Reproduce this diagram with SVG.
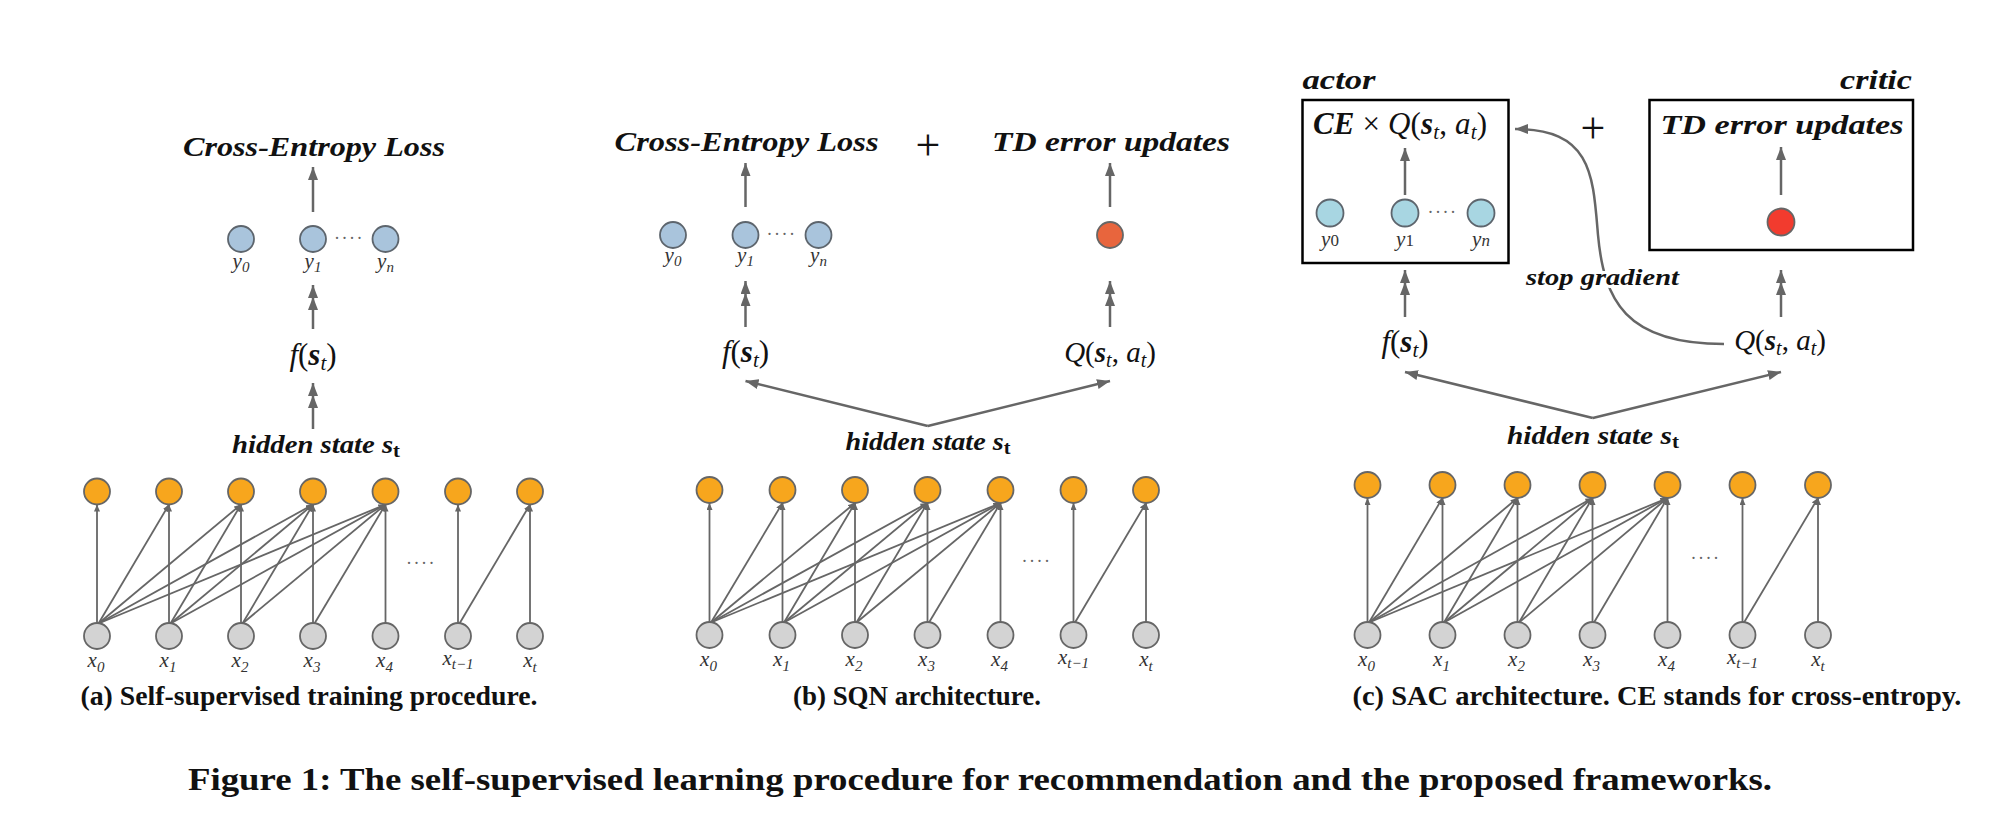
<svg xmlns="http://www.w3.org/2000/svg" width="1995" height="834" viewBox="0 0 1995 834">
<defs>
<style>
.m{font-family:"Liberation Serif","Times New Roman",Times,serif;font-style:italic;fill:#111}
.up{font-style:normal}
.bd{font-weight:bold}
.lbl{font-size:21px;fill:#333}
.sb{font-size:15px}
.ttl{font-weight:bold;font-size:28px}
.hs{font-weight:bold;font-size:25px}
.cap{font-family:"Liberation Serif","Times New Roman",Times,serif;font-weight:bold;fill:#111}
.dots{font-family:"Liberation Serif",serif;font-size:18px;fill:#666;letter-spacing:1.5px}
.ln{stroke:#666;stroke-width:1.8;fill:none}
.ar{stroke:#666;stroke-width:2.5;fill:none}
.o{fill:#f7a61d;stroke:#666;stroke-width:1.8}
.g{fill:#d3d3d3;stroke:#666;stroke-width:1.8}
.bl{fill:#a9c4dc;stroke:#5d656d;stroke-width:1.8}
.cy{fill:#a8d6e2;stroke:#5d656d;stroke-width:1.8}
.box{fill:none;stroke:#000;stroke-width:2.5}
</style>
<marker id="as" markerUnits="userSpaceOnUse" markerWidth="7" markerHeight="6" refX="7" refY="3" orient="auto"><path d="M0,0 L7,3 L0,6 z" fill="#666"/></marker>
<marker id="ab" markerUnits="userSpaceOnUse" markerWidth="13" markerHeight="10" refX="13" refY="5" orient="auto"><path d="M0,0 L13,5 L0,10 z" fill="#666"/></marker>
</defs>
<rect width="1995" height="834" fill="#fff"/>

<g id="connectors">
<g class="ln" marker-end="url(#as)">
<path d="M97,623 L97,504.5"/><path d="M98.5,623.5 L169,504.5"/><path d="M98.5,623.5 L241,504.5"/><path d="M98.5,623.5 L313,504.5"/><path d="M98.5,623.5 L385.5,504.5"/>
<path d="M169,623 L169,504.5"/><path d="M170.5,623.5 L241,504.5"/><path d="M170.5,623.5 L313,504.5"/><path d="M170.5,623.5 L385.5,504.5"/>
<path d="M241,623 L241,504.5"/><path d="M242.5,623.5 L313,504.5"/><path d="M242.5,623.5 L385.5,504.5"/>
<path d="M313,623 L313,504.5"/><path d="M314.5,623.5 L385.5,504.5"/>
<path d="M385.5,623 L385.5,504.5"/>
<path d="M458,623 L458,504.5"/><path d="M459.5,623.5 L530,504.5"/>
<path d="M530,623 L530,504.5"/>
</g>
<g class="ln" marker-end="url(#as)">
<path d="M709.5,622 L709.5,503"/><path d="M711,622.5 L782.5,503"/><path d="M711,622.5 L855,503"/><path d="M711,622.5 L927.5,503"/><path d="M711,622.5 L1000.5,503"/>
<path d="M782.5,622 L782.5,503"/><path d="M784,622.5 L855,503"/><path d="M784,622.5 L927.5,503"/><path d="M784,622.5 L1000.5,503"/>
<path d="M855,622 L855,503"/><path d="M856.5,622.5 L927.5,503"/><path d="M856.5,622.5 L1000.5,503"/>
<path d="M927.5,622 L927.5,503"/><path d="M929,622.5 L1000.5,503"/>
<path d="M1000.5,622 L1000.5,503"/>
<path d="M1073.5,622 L1073.5,503"/><path d="M1075,622.5 L1146,503"/>
<path d="M1146,622 L1146,503"/>
</g>
<g class="ln" marker-end="url(#as)">
<path d="M1367.5,622 L1367.5,498"/><path d="M1369,622.5 L1442.5,498"/><path d="M1369,622.5 L1517.5,498"/><path d="M1369,622.5 L1592.5,498"/><path d="M1369,622.5 L1667.5,498"/>
<path d="M1442.5,622 L1442.5,498"/><path d="M1444,622.5 L1517.5,498"/><path d="M1444,622.5 L1592.5,498"/><path d="M1444,622.5 L1667.5,498"/>
<path d="M1517.5,622 L1517.5,498"/><path d="M1519,622.5 L1592.5,498"/><path d="M1519,622.5 L1667.5,498"/>
<path d="M1592.5,622 L1592.5,498"/><path d="M1594,622.5 L1667.5,498"/>
<path d="M1667.5,622 L1667.5,498"/>
<path d="M1742.5,622 L1742.5,498"/><path d="M1744,622.5 L1818,498"/>
<path d="M1818,622 L1818,498"/>
</g>
<g class="ar" marker-end="url(#ab)">
<path d="M313,212 L313,167"/>
<path d="M313,329 L313,297 L313,285" marker-mid="url(#ab)"/>
<path d="M313,429 L313,395 L313,383" marker-mid="url(#ab)"/>
<path d="M745.5,207 L745.5,163"/>
<path d="M1110,207 L1110,163"/>
<path d="M745.5,327 L745.5,293 L745.5,281" marker-mid="url(#ab)"/>
<path d="M1110,327 L1110,293 L1110,281" marker-mid="url(#ab)"/>
<path d="M927.8,426 L745.5,381"/>
<path d="M927.8,426 L1110,381"/>
<path d="M1405,195 L1405,148"/>
<path d="M1781,195 L1781,147"/>
<path d="M1405,317 L1405,282 L1405,270" marker-mid="url(#ab)"/>
<path d="M1781,317 L1781,282 L1781,270" marker-mid="url(#ab)"/>
<path d="M1592.8,418 L1405,372"/>
<path d="M1592.8,418 L1781,372"/>
<path d="M1724,344 C1625,344 1604,300 1598,235 C1593,175 1592,129 1515,129"/>
</g>
</g>

<g id="panel-a">
<g id="a-inputs">
<circle class="g" cx="97" cy="636" r="13"/><circle class="g" cx="169" cy="636" r="13"/><circle class="g" cx="241" cy="636" r="13"/><circle class="g" cx="313" cy="636" r="13"/><circle class="g" cx="385.5" cy="636" r="13"/><circle class="g" cx="458" cy="636" r="13"/><circle class="g" cx="530" cy="636" r="13"/>
</g>
<g id="a-hidden">
<circle class="o" cx="97" cy="491.5" r="13"/><circle class="o" cx="169" cy="491.5" r="13"/><circle class="o" cx="241" cy="491.5" r="13"/><circle class="o" cx="313" cy="491.5" r="13"/><circle class="o" cx="385.5" cy="491.5" r="13"/><circle class="o" cx="458" cy="491.5" r="13"/><circle class="o" cx="530" cy="491.5" r="13"/>
</g>
<text class="dots" x="421" y="569" text-anchor="middle">····</text>
<g class="m lbl" text-anchor="middle">
<text x="96" y="667">x<tspan class="sb" dy="5">0</tspan></text>
<text x="168" y="667">x<tspan class="sb" dy="5">1</tspan></text>
<text x="240" y="667">x<tspan class="sb" dy="5">2</tspan></text>
<text x="312" y="667">x<tspan class="sb" dy="5">3</tspan></text>
<text x="384.5" y="667">x<tspan class="sb" dy="5">4</tspan></text>
<text x="458" y="665">x<tspan class="sb" dy="4">t−1</tspan></text>
<text x="530" y="667">x<tspan class="sb" dy="5">t</tspan></text>
</g>
<text id="a-hs" class="m hs" x="316" y="453" text-anchor="middle" textLength="168" lengthAdjust="spacingAndGlyphs">hidden state s<tspan class="up" font-size="18" dy="4">t</tspan></text>
<text id="a-f" class="m" x="313" y="365" font-size="31" text-anchor="middle">f<tspan class="up">(</tspan><tspan class="bd">s</tspan><tspan font-size="21" dy="5">t</tspan><tspan class="up" dy="-5">)</tspan></text>
<g id="a-out">
<circle class="bl" cx="241" cy="239" r="13"/><circle class="bl" cx="313" cy="239" r="13"/><circle class="bl" cx="385.5" cy="239" r="13"/>
<text class="dots" x="349" y="244" text-anchor="middle">····</text>
<g class="m lbl" text-anchor="middle">
<text x="241" y="268">y<tspan class="sb" dy="4">0</tspan></text>
<text x="313" y="268">y<tspan class="sb" dy="4">1</tspan></text>
<text x="385.5" y="268">y<tspan class="sb" dy="4">n</tspan></text>
</g>
</g>
<text id="a-loss" class="m ttl" x="314" y="156" text-anchor="middle" textLength="262" lengthAdjust="spacingAndGlyphs">Cross-Entropy Loss</text>
<text class="cap" x="309" y="705" font-size="27" text-anchor="middle" textLength="457" lengthAdjust="spacingAndGlyphs">(a) Self-supervised training procedure.</text>
</g>

<g id="panel-b">
<g id="b-inputs">
<circle class="g" cx="709.5" cy="635" r="13"/><circle class="g" cx="782.5" cy="635" r="13"/><circle class="g" cx="855" cy="635" r="13"/><circle class="g" cx="927.5" cy="635" r="13"/><circle class="g" cx="1000.5" cy="635" r="13"/><circle class="g" cx="1073.5" cy="635" r="13"/><circle class="g" cx="1146" cy="635" r="13"/>
</g>
<g id="b-hidden">
<circle class="o" cx="709.5" cy="490" r="13"/><circle class="o" cx="782.5" cy="490" r="13"/><circle class="o" cx="855" cy="490" r="13"/><circle class="o" cx="927.5" cy="490" r="13"/><circle class="o" cx="1000.5" cy="490" r="13"/><circle class="o" cx="1073.5" cy="490" r="13"/><circle class="o" cx="1146" cy="490" r="13"/>
</g>
<text class="dots" x="1036.5" y="566.5" text-anchor="middle">····</text>
<g class="m lbl" text-anchor="middle">
<text x="708.5" y="666">x<tspan class="sb" dy="5">0</tspan></text>
<text x="781.5" y="666">x<tspan class="sb" dy="5">1</tspan></text>
<text x="854" y="666">x<tspan class="sb" dy="5">2</tspan></text>
<text x="926.5" y="666">x<tspan class="sb" dy="5">3</tspan></text>
<text x="999.5" y="666">x<tspan class="sb" dy="5">4</tspan></text>
<text x="1073.5" y="664">x<tspan class="sb" dy="4">t−1</tspan></text>
<text x="1146" y="666">x<tspan class="sb" dy="5">t</tspan></text>
</g>
<text id="b-hs" class="m hs" x="928" y="450" text-anchor="middle" textLength="165" lengthAdjust="spacingAndGlyphs">hidden state s<tspan class="up" font-size="18" dy="4">t</tspan></text>
<text id="b-f" class="m" x="745.5" y="362" font-size="31" text-anchor="middle">f<tspan class="up">(</tspan><tspan class="bd">s</tspan><tspan font-size="21" dy="5">t</tspan><tspan class="up" dy="-5">)</tspan></text>
<text id="b-q" class="m" x="1110" y="362" font-size="29" text-anchor="middle">Q<tspan class="up">(</tspan><tspan class="bd">s</tspan><tspan font-size="20" dy="5">t</tspan><tspan class="up" dy="-5">, </tspan>a<tspan font-size="20" dy="5">t</tspan><tspan class="up" dy="-5">)</tspan></text>
<g id="b-out">
<circle class="bl" cx="673" cy="235" r="13"/><circle class="bl" cx="745.5" cy="235" r="13"/><circle class="bl" cx="818.5" cy="235" r="13"/>
<text class="dots" x="781.5" y="240" text-anchor="middle">····</text>
<g class="m lbl" text-anchor="middle">
<text x="673" y="262">y<tspan class="sb" dy="4">0</tspan></text>
<text x="745.5" y="262">y<tspan class="sb" dy="4">1</tspan></text>
<text x="818.5" y="262">y<tspan class="sb" dy="4">n</tspan></text>
</g>
</g>
<circle id="b-q-node" cx="1110" cy="235" r="13" fill="#e8653d" stroke="#666" stroke-width="1.8"/>
<text id="b-loss" class="m ttl" x="746.5" y="151" text-anchor="middle" textLength="264" lengthAdjust="spacingAndGlyphs">Cross-Entropy Loss</text>
<text id="b-plus" class="m up" x="928" y="160" font-size="44" text-anchor="middle">+</text>
<text id="b-td" class="m ttl" x="1111" y="151" text-anchor="middle" textLength="238" lengthAdjust="spacingAndGlyphs">TD error updates</text>
<text class="cap" x="917" y="705" font-size="27" text-anchor="middle" textLength="248" lengthAdjust="spacingAndGlyphs">(b) SQN architecture.</text>
</g>

<g id="panel-c">
<g id="c-inputs">
<circle class="g" cx="1367.5" cy="635" r="13"/><circle class="g" cx="1442.5" cy="635" r="13"/><circle class="g" cx="1517.5" cy="635" r="13"/><circle class="g" cx="1592.5" cy="635" r="13"/><circle class="g" cx="1667.5" cy="635" r="13"/><circle class="g" cx="1742.5" cy="635" r="13"/><circle class="g" cx="1818" cy="635" r="13"/>
</g>
<g id="c-hidden">
<circle class="o" cx="1367.5" cy="485" r="13"/><circle class="o" cx="1442.5" cy="485" r="13"/><circle class="o" cx="1517.5" cy="485" r="13"/><circle class="o" cx="1592.5" cy="485" r="13"/><circle class="o" cx="1667.5" cy="485" r="13"/><circle class="o" cx="1742.5" cy="485" r="13"/><circle class="o" cx="1818" cy="485" r="13"/>
</g>
<text class="dots" x="1705.5" y="564" text-anchor="middle">····</text>
<g class="m lbl" text-anchor="middle">
<text x="1366.5" y="666">x<tspan class="sb" dy="5">0</tspan></text>
<text x="1441.5" y="666">x<tspan class="sb" dy="5">1</tspan></text>
<text x="1516.5" y="666">x<tspan class="sb" dy="5">2</tspan></text>
<text x="1591.5" y="666">x<tspan class="sb" dy="5">3</tspan></text>
<text x="1666.5" y="666">x<tspan class="sb" dy="5">4</tspan></text>
<text x="1742.5" y="664">x<tspan class="sb" dy="4">t−1</tspan></text>
<text x="1818" y="666">x<tspan class="sb" dy="5">t</tspan></text>
</g>
<text id="c-hs" class="m hs" x="1593" y="444" text-anchor="middle" textLength="172" lengthAdjust="spacingAndGlyphs">hidden state s<tspan class="up" font-size="18" dy="4">t</tspan></text>
<text id="c-f" class="m" x="1405" y="352" font-size="31" text-anchor="middle">f<tspan class="up">(</tspan><tspan class="bd">s</tspan><tspan font-size="21" dy="5">t</tspan><tspan class="up" dy="-5">)</tspan></text>
<text id="c-q" class="m" x="1780" y="350" font-size="29" text-anchor="middle">Q<tspan class="up">(</tspan><tspan class="bd">s</tspan><tspan font-size="20" dy="5">t</tspan><tspan class="up" dy="-5">, </tspan>a<tspan font-size="20" dy="5">t</tspan><tspan class="up" dy="-5">)</tspan></text>
<text id="c-stop" class="m bd" x="1602.5" y="285" font-size="23" text-anchor="middle" stroke="#fff" stroke-width="6" paint-order="stroke" textLength="153" lengthAdjust="spacingAndGlyphs">stop gradient</text>
<g id="actor">
<rect class="box" x="1302.5" y="100" width="206" height="163"/>
<text class="m ttl" x="1302.5" y="89" font-size="29" textLength="73" lengthAdjust="spacingAndGlyphs">actor</text>
<text class="m" x="1313" y="134" font-size="31" textLength="174" lengthAdjust="spacing"><tspan class="bd">CE</tspan><tspan class="up"> × </tspan>Q<tspan class="up">(</tspan><tspan class="bd">s</tspan><tspan font-size="21" dy="5">t</tspan><tspan class="up" dy="-5">, </tspan>a<tspan font-size="21" dy="5">t</tspan><tspan class="up" dy="-5">)</tspan></text>
<circle class="cy" cx="1330" cy="213" r="13.5"/><circle class="cy" cx="1405" cy="213" r="13.5"/><circle class="cy" cx="1481" cy="213" r="13.5"/>
<text class="dots" x="1442.5" y="218" text-anchor="middle">····</text>
<g class="m lbl" text-anchor="middle">
<text x="1330" y="246">y<tspan class="up" font-size="17">0</tspan></text>
<text x="1405" y="246">y<tspan class="up" font-size="17">1</tspan></text>
<text x="1481" y="246">y<tspan font-size="17">n</tspan></text>
</g>
</g>
<text id="c-plus" class="m up" x="1593" y="143" font-size="44" text-anchor="middle">+</text>
<g id="critic">
<rect class="box" x="1649.5" y="100" width="263.5" height="150"/>
<text class="m ttl" x="1912" y="89" font-size="29" text-anchor="end" textLength="72" lengthAdjust="spacingAndGlyphs">critic</text>
<text class="m ttl" x="1782" y="134" text-anchor="middle" textLength="243" lengthAdjust="spacingAndGlyphs">TD error updates</text>
<circle cx="1781" cy="222" r="13.5" fill="#f23b2e" stroke="#666" stroke-width="1.8"/>
</g>
<text class="cap" x="1657" y="705" font-size="27" text-anchor="middle" textLength="609" lengthAdjust="spacingAndGlyphs">(c) SAC architecture. CE stands for cross-entropy.</text>
</g>

<text id="figure-caption" class="cap" x="980" y="790" font-size="31" text-anchor="middle" textLength="1584" lengthAdjust="spacingAndGlyphs">Figure 1: The self-supervised learning procedure for recommendation and the proposed frameworks.</text>
</svg>
